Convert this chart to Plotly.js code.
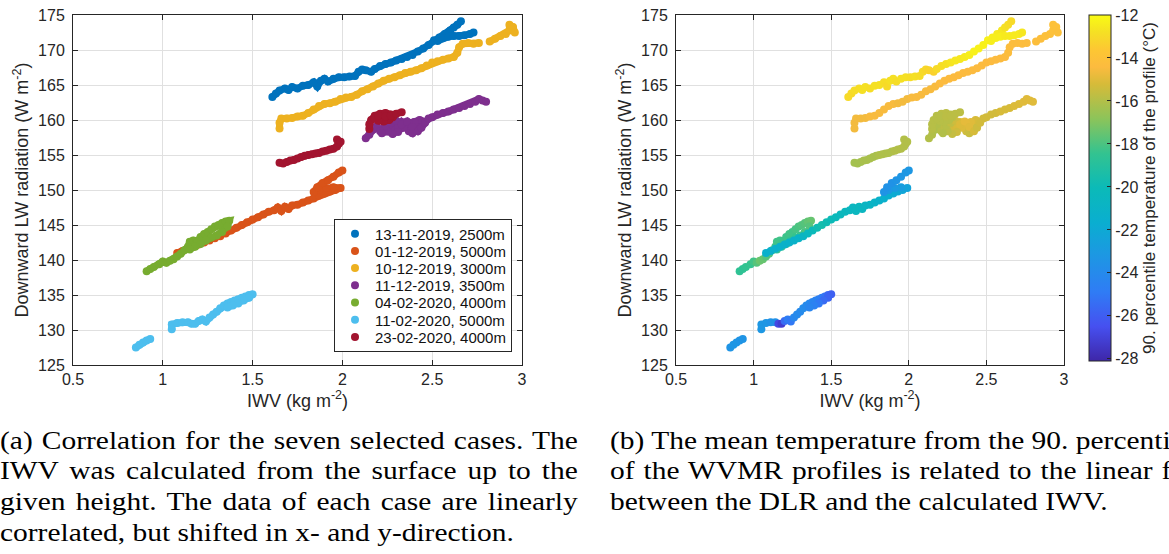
<!DOCTYPE html>
<html><head><meta charset="utf-8">
<script src="https://cdn.plot.ly/plotly-3.0.1.min.js"></script>
<style>html,body{margin:0;padding:0;background:#fff;overflow:hidden}#chart{width:1169px;height:554px}</style>
</head><body><div id="chart"></div><script>
// ---------- data ----------
const seriesNames = ['13-11-2019, 2500m','01-12-2019, 5000m','10-12-2019, 3000m','11-12-2019, 3500m','04-02-2020, 4000m','11-02-2020, 5000m','23-02-2020, 4000m'];
const seriesColors = ['#0072BD','#D95319','#EDB120','#7E2F8E','#77AC30','#4DBEEE','#A2142F'];

const x1 = [1.61,1.63,1.65,1.68,1.70,1.72,1.75,1.78,1.81,1.84,1.86,1.88,1.90,1.92,1.95,1.98,2.01,2.04,2.07,2.09,2.11,2.13,2.16,2.18,2.21,2.24,2.27,2.30,2.33,2.36,2.39,2.42,2.45,2.48,2.51,2.54,2.57,2.60,2.62,2.64,2.66,null,2.53,2.56,2.59,2.62,2.65,2.68,2.71,2.73];
const y1 = [163.3,163.8,164.2,164.5,164.3,164.7,164.5,164.9,165.0,165.4,164.8,165.6,165.9,165.5,165.9,166.1,166.1,166.2,166.3,166.9,167.2,167.1,166.9,167.3,167.7,168.0,168.2,168.5,168.7,169.0,169.3,169.8,170.2,170.7,171.4,171.8,172.3,172.8,173.2,173.6,174.1,null,171.3,171.7,171.9,172.0,172.0,172.1,172.3,172.5];
const t1 = [-13.0,-13.0,-12.9,-12.9,-12.8,-12.8,-12.9,-12.8,-12.8,-12.9,-13.0,-12.8,-12.8,-12.9,-12.8,-12.8,-12.9,-12.8,-12.9,-13.0,-13.1,-13.2,-13.3,-13.0,-12.9,-12.8,-12.7,-12.6,-12.6,-12.5,-12.4,-12.3,-12.3,-12.3,-12.3,-12.4,-12.5,-12.6,-12.8,-12.9,-13.0,null,-12.4,-12.4,-12.4,-12.5,-12.5,-12.5,-12.5,-12.6];

const x2 = [1.08,1.11,1.14,1.17,1.20,1.23,1.26,1.29,1.32,1.35,1.38,1.41,1.44,1.47,1.50,1.53,1.56,1.59,1.62,1.64,1.66,1.68,1.70,1.72,1.75,1.78,1.81,1.84,1.87,1.90,1.93,1.96,1.99,1.95,1.91,1.87,1.84,1.86,1.89,1.92,1.95,1.98,2.00];
const y2 = [141.0,141.3,141.6,141.9,142.2,142.5,142.8,143.1,143.4,143.8,144.2,144.6,145.0,145.4,145.8,146.1,146.5,146.9,147.1,147.5,147.0,147.6,147.3,147.8,147.9,148.2,148.5,148.8,149.2,149.5,149.8,150.0,150.3,150.4,150.3,150.0,149.7,150.4,151.0,151.4,151.9,152.5,152.8];
const t2 = [-21.4,-21.4,-21.3,-21.3,-21.2,-21.2,-21.2,-21.0,-20.8,-20.5,-20.2,-19.8,-19.6,-19.8,-20.0,-20.2,-20.3,-20.4,-20.5,-20.6,-20.5,-20.4,-20.6,-20.7,-20.8,-21.0,-21.2,-21.4,-21.6,-21.8,-22.0,-22.2,-22.4,-22.8,-23.0,-23.2,-23.4,-23.5,-23.5,-23.4,-23.3,-23.2,-23.2];

const x3 = [1.65,1.65,1.66,1.69,1.72,1.75,1.78,1.81,1.84,1.87,1.90,1.93,1.96,1.99,2.02,2.05,2.08,2.11,2.14,2.17,2.20,2.23,2.26,2.29,2.32,2.35,2.38,2.41,2.44,2.47,2.50,2.53,2.56,2.59,2.62,2.64,2.65,2.67,2.70,2.73,2.76,null,2.82,2.85,2.88,2.91,2.93,2.93,2.95,2.96];
const y3 = [158.8,159.6,160.2,160.2,160.3,160.5,160.6,161.0,161.5,162.0,162.3,162.4,162.6,163.0,163.2,163.3,163.6,164.1,164.4,164.8,165.2,165.6,165.9,166.1,166.4,166.7,166.9,167.1,167.4,167.8,168.2,168.4,168.6,168.8,169.0,169.6,170.4,170.9,171.0,170.9,171.0,null,171.2,171.6,172.0,172.3,172.8,173.6,173.3,172.5];
const t3 = [-14.6,-14.6,-14.6,-14.6,-14.6,-14.5,-14.5,-14.5,-14.5,-14.5,-14.5,-14.6,-14.6,-14.6,-14.5,-14.5,-14.5,-14.5,-14.5,-14.5,-14.4,-14.4,-14.4,-14.4,-14.4,-14.4,-14.4,-14.4,-14.4,-14.4,-14.4,-14.4,-14.4,-14.4,-14.4,-14.3,-14.3,-14.3,-14.3,-14.3,-14.3,null,-14.2,-14.2,-14.1,-14.1,-14.0,-14.0,-14.0,-14.1];

const x4 = [2.13,2.15,2.17,2.19,2.21,2.23,2.25,2.27,2.29,2.31,2.33,2.35,2.37,2.39,2.41,2.43,2.45,2.43,2.40,2.37,2.34,2.31,2.28,2.25,2.22,2.24,2.27,2.30,2.33,2.36,2.39,2.42,2.44,2.46,2.48,2.50,2.53,2.56,2.59,2.62,2.65,2.68,2.71,2.74,2.76,2.78,2.80];
const y4 = [157.4,157.9,158.6,159.1,158.4,158.9,159.6,159.1,158.5,159.0,159.7,159.2,158.4,158.1,158.6,159.3,159.8,160.0,159.7,159.5,158.9,158.3,158.0,158.4,158.1,159.2,159.6,159.9,159.4,159.8,159.0,158.4,158.9,159.6,160.2,160.4,160.8,161.0,161.2,161.5,161.7,162.0,162.3,162.6,163.0,162.8,162.6];
const t4 = [-16.0,-16.0,-16.1,-16.0,-15.9,-15.8,-15.6,-15.5,-15.3,-15.2,-15.2,-15.3,-15.4,-15.5,-15.6,-15.6,-15.4,-15.2,-15.0,-14.9,-15.1,-15.4,-15.6,-15.8,-16.0,-15.9,-15.7,-15.4,-15.1,-14.9,-15.0,-15.2,-15.4,-15.3,-15.3,-15.3,-15.3,-15.3,-15.2,-15.2,-15.2,-15.1,-15.1,-15.0,-15.0,-15.0,-15.0];

const x5 = [0.91,0.93,0.95,0.98,1.00,1.02,1.04,1.06,1.08,1.10,1.12,1.14,1.15,1.17,1.19,1.21,1.23,1.25,1.27,1.29,1.31,1.33,1.35,1.37,1.36,1.33,1.30,1.27,1.24,1.21,1.18,1.15];
const y5 = [138.4,138.7,139.0,139.4,139.8,139.6,139.9,140.1,140.5,140.9,141.4,141.9,142.6,142.8,142.7,143.3,143.7,144.0,144.4,144.8,145.0,145.3,145.5,145.6,144.8,144.0,143.5,143.2,142.8,142.3,141.9,141.5];
const t5 = [-18.6,-18.6,-18.5,-18.4,-18.2,-17.8,-17.4,-17.5,-17.8,-18.0,-18.1,-18.2,-18.2,-18.2,-18.3,-18.3,-18.2,-18.2,-18.1,-18.0,-17.9,-17.8,-17.6,-17.5,-17.8,-18.0,-18.3,-18.4,-18.5,-18.5,-18.5,-18.4];

const x6 = [0.85,0.87,0.89,0.91,0.93,null,1.05,1.05,1.08,1.11,1.14,1.16,1.18,1.20,1.22,1.24,1.26,1.28,1.30,1.32,1.34,1.36,1.38,1.40,1.42,1.44,1.46,1.48,1.50,1.48,1.45,1.42,1.39,1.36];
const y6 = [127.5,127.9,128.2,128.5,128.7,null,130.1,130.8,131.0,131.1,131.1,130.9,130.9,131.3,131.5,131.2,131.8,132.2,132.6,133.1,133.5,133.8,134.0,134.2,134.4,134.6,134.8,135.0,135.1,134.6,134.2,133.8,133.5,133.2];
const t6 = [-23.4,-23.3,-23.3,-23.4,-23.4,null,-23.2,-23.2,-23.3,-23.5,-23.6,-26.8,-27.2,-25.5,-24.8,-25.0,-24.2,-24.0,-24.0,-23.9,-24.0,-24.1,-24.3,-24.4,-24.6,-24.8,-25.2,-25.6,-25.9,-25.8,-25.5,-25.0,-24.6,-24.3];

const x7 = [1.65,1.67,1.69,1.71,1.73,1.75,1.77,1.79,1.81,1.83,1.85,1.87,1.89,1.91,1.93,1.95,1.97,1.98,1.97,1.99,null,2.15,2.15,2.16,2.18,2.21,2.24,2.27,2.28,2.26,2.23,2.20,2.18,2.20,2.24,2.27,2.30,2.33];
const y7 = [153.9,153.8,154.0,154.2,154.3,154.5,154.7,154.9,155.0,155.1,155.2,155.3,155.5,155.6,155.8,155.9,156.2,156.6,157.2,156.9,null,158.7,159.4,160.0,160.6,160.9,161.0,160.8,160.4,160.0,159.8,159.9,160.2,160.6,160.5,160.6,160.9,161.1];
const t7 = [-16.3,-16.3,-16.3,-16.2,-16.2,-16.2,-16.2,-16.2,-16.1,-16.1,-16.1,-16.1,-16.1,-16.0,-16.0,-16.0,-16.0,-16.0,-16.0,-16.0,null,-15.9,-15.9,-15.9,-15.9,-15.8,-15.8,-15.8,-15.8,-15.9,-15.9,-15.9,-15.9,-15.9,-15.8,-15.8,-15.8,-15.8];

const xs = [x1,x2,x3,x4,x5,x6,x7];
const ys = [y1,y2,y3,y4,y5,y6,y7];
const ts = [t1,t2,t3,t4,t5,t6,t7];

const xTicks = [0.5,1,1.5,2,2.5,3];
const yTicks = [125,130,135,140,145,150,155,160,165,170,175];
const cTicks = [-28,-26,-24,-22,-20,-18,-16,-14,-12];

const captionA = ['(a) Correlation for the seven selected cases. The','IWV was calculated from the surface up to the','given height. The data of each case are linearly','correlated, but shifted in x- and y-direction.'];
const captionB = ['(b) The mean temperature from the 90. percentile','of the WVMR profiles is related to the linear fit','between the DLR and the calculated IWV.'];

// ---------- styling ----------
const W = 1169, H = 554;
const parula = [[0,'#3E26A8'],[0.1,'#4650F0'],[0.2,'#2F7CF5'],[0.3,'#1E96E4'],[0.4,'#0AAED0'],[0.5,'#0BBAB8'],[0.6,'#33C390'],[0.7,'#8CC45A'],[0.8,'#D6BB39'],[0.85,'#FCBB3F'],[0.9,'#FDC733'],[0.95,'#F5E024'],[1,'#F9FB14']];
const axCol = '#262626';
const FONT = 'Liberation Sans, Arial, sans-serif';
const SERIF = 'Liberation Serif, Times New Roman, serif';

const data = [];
for (let i = 0; i < 7; i++) {
  data.push({x: xs[i], y: ys[i], xaxis:'x', yaxis:'y', type:'scatter', mode:'lines',
    line:{color: seriesColors[i], width:7}, showlegend:false, hoverinfo:'skip', connectgaps:false});
  data.push({x: xs[i], y: ys[i], xaxis:'x', yaxis:'y', type:'scatter', mode:'markers', name: seriesNames[i],
    marker:{color: seriesColors[i], size:8, line:{width:0}}, showlegend:true});
}
const order2 = [0,2,3,6,4,1,5];
order2.forEach(i => {
  data.push({x: xs[i], y: ys[i], xaxis:'x2', yaxis:'y2', type:'scatter', mode:'markers',
    marker:{color: ts[i], coloraxis:'coloraxis', size:8, line:{width:0}}, showlegend:false});
});

function xaxisDef(domain, anchor) {
  return {domain: domain, anchor: anchor, range:[0.5,3], tickvals: xTicks, ticktext: xTicks.map(String),
    showgrid:true, gridcolor:'#E0E0E0', gridwidth:1, zeroline:false,
    showline:true, linecolor:axCol, linewidth:1, mirror:'ticks', ticks:'inside', ticklen:5, tickcolor:axCol,
    tickfont:{family:FONT, size:16, color:axCol},
    title:{text:'IWV (kg m<sup>-2</sup>)', font:{family:FONT, size:18, color:axCol}, standoff:5}};
}
function yaxisDef(domain, anchor) {
  return {domain: domain, anchor: anchor, range:[125,175], tickvals: yTicks, ticktext: yTicks.map(String),
    showgrid:true, gridcolor:'#E0E0E0', gridwidth:1, zeroline:false,
    showline:true, linecolor:axCol, linewidth:1, mirror:'ticks', ticks:'inside', ticklen:5, tickcolor:axCol,
    ticklabelstandoff:4,
    tickfont:{family:FONT, size:16, color:axCol},
    title:{text:'Downward LW radiation (W m<sup>-2</sup>)', font:{family:FONT, size:18, color:axCol}, standoff:4}};
}

const yDom = [1 - 365/H, 1 - 15/H];
const capY = [440, 470, 501, 532];
const annotations = [];
const capSpec = [];
captionA.forEach((t, k) => {
  annotations.push({text:t, xref:'paper', yref:'paper', x:-2/W, y:1-capY[k]/H, xanchor:'left', yanchor:'middle', align:'left',
    showarrow:false, font:{family:SERIF, size:26, color:'#000'}});
  capSpec.push({justify: k < captionA.length-1, w: 578, ref: k === captionA.length-1 ? 514 : 0});
});
captionB.forEach((t, k) => {
  annotations.push({text:t, xref:'paper', yref:'paper', x:608/W, y:1-capY[k]/H, xanchor:'left', yanchor:'middle', align:'left',
    showarrow:false, font:{family:SERIF, size:26, color:'#000'}});
  capSpec.push({justify: k < captionB.length-1, w: 578, ref: 0});
});

const layout = {
  width:W, height:H, margin:{l:0,r:0,t:0,b:0}, paper_bgcolor:'#fff', plot_bgcolor:'#fff',
  hovermode:false,
  xaxis: xaxisDef([73/W, 522/W], 'y'),
  yaxis: yaxisDef(yDom, 'x'),
  xaxis2: xaxisDef([676/W, 1064/W], 'y2'),
  yaxis2: yaxisDef(yDom, 'x2'),
  coloraxis: {cmin:-28.1, cmax:-12, colorscale: parula,
    colorbar:{x:1089/W, xanchor:'left', xpad:0, y:1-15/H, yanchor:'top', ypad:0, len:346/H, lenmode:'fraction',
      thickness:22, outlinewidth:1, outlinecolor:axCol, ticks:'inside', ticklen:4, tickcolor:axCol,
      tickvals:cTicks, ticktext:cTicks.map(String), tickfont:{family:FONT, size:16, color:axCol},
      title:{text:'90. percentile temperature of the profile (°C)', side:'right', font:{family:FONT, size:17, color:axCol}}}},
  legend:{x:512/W, xanchor:'right', y:1-352/H, yanchor:'bottom', bgcolor:'#fff', bordercolor:axCol, borderwidth:1,
    font:{family:FONT, size:15, color:'#111'}, itemwidth:30, tracegroupgap:0},
  annotations: annotations
};

function parseT(el) {
  const m = /translate\(\s*([-\d.e]+)[ ,]+([-\d.e]+)\s*\)/.exec(el.getAttribute('transform') || '');
  return m ? [parseFloat(m[1]), parseFloat(m[2])] : [0, 0];
}

Plotly.newPlot('chart', data, layout, {staticPlot:true, displayModeBar:false}).then(gd => {
  // caption typesetting: common horizontal stretch, then justify with word spacing
  const texts = [];
  gd.querySelectorAll('g.annotation').forEach(g => {
    const idx = +g.getAttribute('data-index');
    const t = g.querySelector('text.annotation-text');
    if (t && capSpec[idx]) texts[idx] = t;
  });
  let s = 1;
  capSpec.forEach((sp, i) => { if (sp.ref && texts[i]) s = sp.ref / texts[i].getComputedTextLength(); });
  capSpec.forEach((sp, i) => {
    const t = texts[i]; if (!t) return;
    const len = t.getComputedTextLength();
    const n = (t.textContent.match(/ /g) || []).length;
    t.style.transformBox = 'fill-box';
    t.style.transformOrigin = '0 50%';
    t.style.transform = 'scaleX(' + s + ')';
    if (sp.justify && n && len * s < sp.w) t.style.wordSpacing = ((sp.w / s - len) / n) + 'px';
  });
  // tighter legend rows (as in the reference)
  const leg = gd.querySelector('g.legend');
  if (leg) {
    const items = Array.from(leg.querySelectorAll('g.traces'));
    const bg = leg.querySelector('rect.bg');
    if (items.length > 1 && bg) {
      const p0 = parseT(items[0]), p1 = parseT(items[1]);
      const step = p1[1] - p0[1], rowH = 17.2, d = step - rowH;
      items.forEach((it, k) => { const p = parseT(it); it.setAttribute('transform', 'translate(' + p[0] + ',' + (p0[1] - d/2 + k*rowH) + ')'); });
      const oldH = +bg.getAttribute('height');
      const newH = oldH - items.length * d;
      bg.setAttribute('height', newH);
      const lp = parseT(leg);
      leg.setAttribute('transform', 'translate(' + lp[0] + ',' + (lp[1] + (oldH - newH)) + ')');
    }
  }
});
</script></body></html>
